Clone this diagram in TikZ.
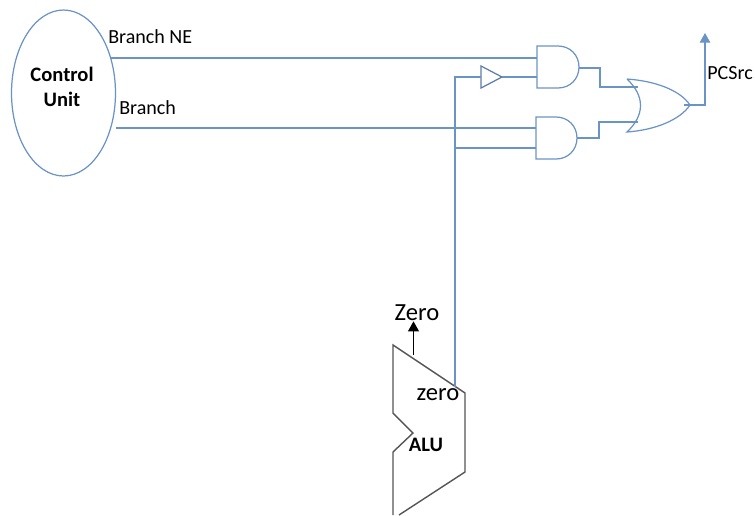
\documentclass[tikz,border=0pt]{standalone}
\usepackage{fontspec}
\setmainfont{Carlito}
\usepackage{tikz}
\usetikzlibrary{shapes.geometric,arrows.meta}
\definecolor{wireblue}{HTML}{6A93C6}
\definecolor{alugray}{HTML}{555555}
\tikzset{
 wire/.style={wireblue,line width=0.62pt},
 gate/.style={draw=wireblue,line width=0.7pt},
 lbl/.style={inner sep=0pt,font=\fontsize{11.4}{13}\selectfont},
 biglbl/.style={inner sep=0pt,font=\fontsize{14}{16}\selectfont},
 boldlbl/.style={inner sep=0pt,font=\fontsize{11.7}{14}\selectfont\bfseries,align=center}
}
\begin{document}
\begin{tikzpicture}[x=0.02cm,y=-0.02cm]
 \useasboundingbox (0,0) rectangle (755,515);
 % control unit
 \node[ellipse,gate,inner sep=0pt,minimum width=2.08cm,minimum height=3.32cm] (cu) at (63.5,93) {};
 \node[boldlbl] (culbl) at (62,87) {Control\\Unit};
 \node[lbl,anchor=west] (bnelbl) at (108,37) {Branch NE};
 \node[lbl,anchor=west] (brlbl) at (119,108) {Branch};
 \coordinate (bne) at (110,58);
 \coordinate (br) at (116,128);
 % gates
 \draw[gate] (537,46) -- (558,46) .. controls (570,46) and (579,55) .. (579,67) .. controls (579,79) and (570,88) .. (558,88) -- (537,88) -- cycle;
 \draw[gate] (536,117) -- (556,117) .. controls (568,117) and (577,126) .. (577,138) .. controls (577,150) and (568,159) .. (556,159) -- (536,159) -- cycle;
 \draw[gate,draw=wireblue!85!black] (481,66) -- (502,77) -- (481,88) -- cycle;
 \draw[gate] (627,79) .. controls (655,81) and (680,90) .. (690,105) .. controls (680,120) and (655,130) .. (627,132) .. controls (645,115) and (645,96) .. (627,79);
 \coordinate (andtopa) at (537,58);
 \coordinate (andtopb) at (537,77);
 \coordinate (andtopout) at (579,68);
 \coordinate (andbota) at (536,128);
 \coordinate (andbotb) at (536,148);
 \coordinate (andbotout) at (577,138);
 \coordinate (invin) at (481,77);
 \coordinate (invout) at (502,77);
 \coordinate (ora) at (638,87);
 \coordinate (orb) at (638,122);
 \coordinate (orout) at (684,105);
 % alu
 \draw[alugray,line width=0.8pt] (399,515) -- (465,472) -- (465,393) -- (393,345) -- (393,413) -- (413,433) -- (393,452) -- (393,515);
 \node[boldlbl] (alulbl) at (426,445) {ALU};
 \node[biglbl] (zerolbl) at (438,395) {zero};
 \node[biglbl] (zerotop) at (417,313) {Zero};
 \coordinate (zeroout) at (413.5,355);
 \coordinate (zerotap) at (455,387);
 \coordinate (pcsrc) at (705,33);
 \node[lbl,anchor=west] (pclbl) at (707,73) {PCSrc};
 % wires
 \draw[wire] (bne) -- (andtopa);
 \draw[wire] (br) -- (andbota);
 \draw[wire] (zerotap) |- (invin);
 \draw[wire] (invout) -- (andtopb);
 \draw[wire] (zerotap |- andbotb) -- (andbotb);
 \draw[wire] (andtopout) -- ++(21,0) |- (ora);
 \draw[wire] (andbotout) -- ++(22,0) |- (orb);
 \draw[wire,-{Triangle[length=5.5pt,width=6pt]}] (orout) -| (pcsrc);
 \draw[line width=0.7pt,-{Triangle[length=5.7pt,width=6.2pt]}] (zeroout) -- (zerotop.south -| zeroout);
\end{tikzpicture}
\end{document}
